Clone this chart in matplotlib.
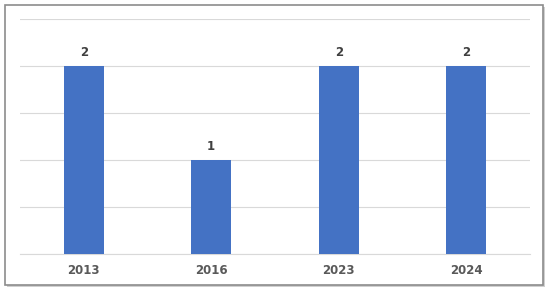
import matplotlib.pyplot as plt
from matplotlib.patches import Rectangle

# Data
years = ['2013', '2016', '2023', '2024']
counts = [2, 1, 2, 2]

fig = plt.figure(figsize=(5.5, 2.9), dpi=100)

# chart border with a little shadow
fig.patches.append(Rectangle((7 / 550, 3 / 290), 538 / 550, 280 / 290, transform=fig.transFigure,
                             facecolor='#d0d0d0', edgecolor='none', zorder=-2))
fig.patches.append(Rectangle((5 / 550, 5 / 290), 538 / 550, 280 / 290, transform=fig.transFigure,
                             facecolor='white', edgecolor='#8c8c8c', linewidth=1.2, zorder=-1))

ax = fig.add_axes([20 / 550, 36 / 290, 510 / 550, 235 / 290])
ax.set_facecolor('none')
x = range(len(years))
bars = ax.bar(x, counts, width=0.31, color='#4472C4', zorder=3)
for b, v in zip(bars, counts):
    ax.text(b.get_x() + b.get_width() / 2, v + 0.07, str(v), ha='center', va='bottom',
            fontsize=8.5, fontweight='bold', color='#404040')

ax.set_xlim(-0.5, len(years) - 0.5)
ax.set_ylim(0, 2.5)
ax.set_yticks([0, 0.5, 1, 1.5, 2, 2.5])
ax.yaxis.grid(True, color='#d9d9d9', linewidth=0.8, zorder=0)
ax.tick_params(axis='y', left=False, labelleft=False)
ax.tick_params(axis='x', bottom=False, labelsize=8.5, labelcolor='#595959', pad=4)
ax.set_xticks(list(x))
ax.set_xticklabels(years, fontweight='bold')
for s in ['top', 'right', 'left']:
    ax.spines[s].set_visible(False)
ax.spines['bottom'].set_color('#d9d9d9')

plt.savefig('out.png', dpi=100)
